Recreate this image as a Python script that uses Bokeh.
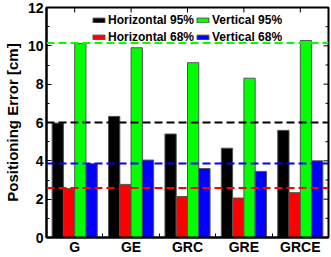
import math
from bokeh.plotting import figure
from bokeh.models import (ColumnDataSource, Span, Legend, LegendItem,
                          FixedTicker, Range1d)
from bokeh.transform import dodge
from bokeh.embed import file_html
from bokeh.resources import INLINE

categories = ["G", "GE", "GRC", "GRE", "GRCE"]
horizontal_95 = [5.97, 6.32, 5.40, 4.66, 5.59]
horizontal_68 = [2.55, 2.77, 2.14, 2.06, 2.34]
vertical_95 = [10.12, 9.90, 9.12, 8.31, 10.28]
vertical_68 = [3.85, 4.04, 3.60, 3.45, 4.00]
ref_h95 = 6.0
ref_h68 = 2.58
ref_v95 = 10.15
ref_v68 = 3.86
y_major_ticks = [0, 2, 4, 6, 8, 10, 12]
y_minor_ticks = [1, 3, 5, 7, 9, 11]
x_start, x_end = 0.5, 5.5
y_start, y_end = 0, 12

positions = list(range(1, len(categories) + 1))
boundaries = [x + 0.5 for x in positions[:-1]]

src = ColumnDataSource(dict(x=positions, h95=horizontal_95, h68=horizontal_68,
                            v95=vertical_95, v68=vertical_68))

FONT = "Liberation Sans"

p = figure(width=331, height=257, x_range=Range1d(x_start, x_end),
           y_range=Range1d(y_start, y_end),
           output_backend="svg", toolbar_location=None,
           min_border_left=0, min_border_right=3, min_border_top=7, min_border_bottom=18)
p.xgrid.visible = False
p.ygrid.visible = False
p.outline_line_color = "black"
p.outline_line_width = 2
p.background_fill_color = "white"
p.border_fill_color = "white"

series = [("h95", "black", -0.3, "Horizontal 95%"),
          ("h68", "#FF0000", -0.1, "Horizontal 68%"),
          ("v95", "#00FF00", 0.1, "Vertical 95%"),
          ("v68", "#0000FF", 0.3, "Vertical 68%")]
renderers = {}
for key, color, off, label in series:
    r = p.vbar(x=dodge("x", off, range=p.x_range), top=key, bottom=0, width=0.2,
               source=src, fill_color=color, line_color="#555555", line_width=1)
    renderers[key] = r

for loc, color in [(ref_h95, "black"), (ref_h68, "#FF0000"),
                   (ref_v95, "#00FF00"), (ref_v68, "#0000FF")]:
    p.add_layout(Span(location=loc, dimension="width", line_color=color,
                      line_width=2, line_dash="8 4"))

# bottom axis: labels at the category centres, ticks at the boundaries
xa = p.xaxis[0]
xa.ticker = FixedTicker(ticks=positions, minor_ticks=boundaries)
xa.major_label_overrides = {x: c for x, c in zip(positions, categories)}
xa.major_tick_in = 0
xa.major_tick_out = 0
xa.minor_tick_in = 4
xa.minor_tick_out = 0
xa.axis_line_width = 2
xa.minor_tick_line_width = 1
xa.major_label_text_font = FONT
xa.major_label_text_font_style = "bold"
xa.major_label_text_font_size = "14px"
xa.major_label_text_line_height = 1.0
xa.major_label_text_color = "black"
xa.major_label_standoff = 1

# left axis
ya = p.yaxis[0]
ya.ticker = FixedTicker(ticks=y_major_ticks, minor_ticks=y_minor_ticks)
ya.major_tick_in = 5
ya.major_tick_out = 0
ya.minor_tick_in = 3
ya.minor_tick_out = 0
ya.axis_line_width = 2
ya.major_label_text_font = FONT
ya.major_label_text_font_style = "bold"
ya.major_label_text_font_size = "14px"
ya.major_label_text_color = "black"
ya.major_label_standoff = 3
ya.axis_label = "Positioning Error [cm]"
ya.axis_label_text_font = FONT
ya.axis_label_text_font_style = "bold"
ya.axis_label_text_font_size = "15px"
ya.axis_label_text_color = "black"
ya.axis_label_standoff = 4

# mirrored ticks on top and right edges of the frame
p.ray(x=positions, y=[y_end] * len(positions), length=5, length_units="screen",
      angle=-math.pi / 2, line_color="black", line_width=1)
p.ray(x=[x_end] * len(y_major_ticks), y=y_major_ticks, length=5, length_units="screen",
      angle=math.pi, line_color="black", line_width=1)
p.ray(x=[x_end] * len(y_minor_ticks), y=y_minor_ticks, length=3, length_units="screen",
      angle=math.pi, line_color="black", line_width=1)

legend = Legend(items=[LegendItem(label="Horizontal 95%", renderers=[renderers["h95"]]),
                       LegendItem(label="Horizontal 68%", renderers=[renderers["h68"]]),
                       LegendItem(label="Vertical 95%", renderers=[renderers["v95"]]),
                       LegendItem(label="Vertical 68%", renderers=[renderers["v68"]])],
                ncols=2, location=(45, 192), padding=0, margin=0, spacing=1,
                glyph_width=15, glyph_height=6, label_standoff=2, label_height=16,
                label_text_font=FONT, label_text_font_style="bold",
                label_text_font_size="12px", label_text_color="black",
                border_line_color=None, background_fill_alpha=0)
p.add_layout(legend)

open("out.html", "w").write(file_html(p, INLINE))
